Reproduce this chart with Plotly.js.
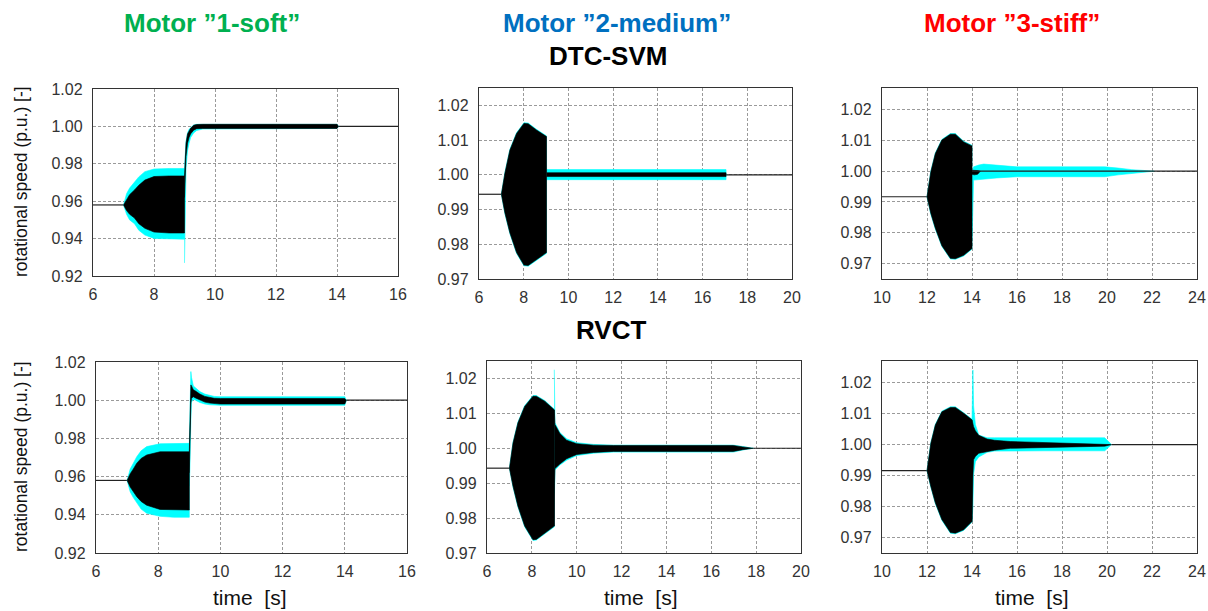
<!DOCTYPE html>
<html>
<head>
<meta charset="utf-8">
<script src="https://cdn.plot.ly/plotly-3.0.1.min.js"></script>
<style>html,body{margin:0;padding:0;background:#fff;}#chart{width:1208px;height:611px;}</style>
</head>
<body>
<div id="chart"></div>
<script>
// ---------- Panel 1: DTC-SVM, Motor "1-soft" ----------
const p1_preT = [6, 7], p1_preV = [0.958, 0.958];
const p1_postT = [14.05, 16], p1_postV = [1.0, 1.0];
const p1_tA = [7.0, 7.1, 7.2, 7.36, 7.5, 7.7, 8.0, 8.5, 9.0];
const p1_cyanUpA  = [0.958, 0.964, 0.967, 0.9704, 0.973, 0.9758, 0.9772, 0.9775, 0.9775];
const p1_blackUpA = [0.958, 0.961, 0.9635, 0.966, 0.9685, 0.9713, 0.9732, 0.9735, 0.9735];
const p1_blackLoA = [0.958, 0.955, 0.953, 0.951, 0.948, 0.9455, 0.9435, 0.943, 0.943];
const p1_cyanLoA  = [0.958, 0.953, 0.950, 0.948, 0.9445, 0.9419, 0.9401, 0.9397, 0.9397];
const p1_tB = [9.0, 9.02, 9.05, 9.1, 9.15, 9.2, 9.3, 9.4, 9.6, 14.0, 14.05];
const p1_blackUpB = [0.9735, 0.982, 0.991, 0.996, 0.998, 0.999, 1.0006, 1.001, 1.0011, 1.0011, 1.0];
const p1_blackLoB = [0.962, 0.972, 0.984, 0.991, 0.994, 0.996, 0.998, 0.9988, 0.9989, 0.9989, 1.0];
const p1_cyanUpB  = [0.9775, 0.984, 0.992, 0.9965, 0.9985, 0.9993, 1.0007, 1.0011, 1.0011, 1.0011, 1.0];
const p1_cyanLoB  = [0.927, 0.945, 0.978, 0.987, 0.991, 0.994, 0.9965, 0.9978, 0.9986, 0.9989, 1.0];

// ---------- Panel 2: DTC-SVM, Motor "2-medium" ----------
const p2_preT = [6, 7], p2_preV = [0.9944, 0.9944];
const p2_postT = [17.05, 20], p2_postV = [1.0, 1.0];
const p2_tA = [7.0, 7.16, 7.38, 7.68, 8.01, 8.2, 8.57, 9.02];
const p2_blackUpA = [0.9944, 1.0005, 1.0071, 1.0119, 1.0148, 1.0147, 1.0129, 1.011];
const p2_blackLoA = [0.9944, 0.989, 0.9833, 0.9776, 0.974, 0.9739, 0.9756, 0.9776];
const p2_cyanUpA  = [0.9944, 1.0007, 1.0073, 1.0121, 1.015, 1.0149, 1.0131, 1.0112];
const p2_cyanLoA  = [0.9944, 0.9888, 0.9831, 0.9774, 0.9738, 0.9737, 0.9754, 0.9774];
const p2_tB = [9.02, 17.05];
const p2_blackUpB = [1.0006, 1.0006];
const p2_blackLoB = [0.9995, 0.9995];
const p2_cyanUpB  = [1.0015, 1.0015];
const p2_cyanLoB  = [0.9986, 0.9986];

// ---------- Panel 3: DTC-SVM, Motor "3-stiff" ----------
const p3_preT = [10, 12], p3_preV = [0.9917, 0.9917];
const p3_postT = [14.0, 24], p3_postV = [1.0, 1.0];
const p3_tA = [12.0, 12.17, 12.37, 12.66, 13.04, 13.26, 13.63, 14.0];
const p3_blackUpA = [0.9917, 0.9998, 1.0057, 1.0101, 1.012, 1.012, 1.0095, 1.0082];
const p3_blackLoA = [0.9917, 0.9863, 0.9815, 0.9758, 0.9717, 0.9716, 0.9727, 0.9749];
const p3_cyanUpA  = [0.9917, 1.0, 1.0059, 1.0103, 1.0122, 1.0122, 1.0097, 1.0084];
const p3_cyanLoA  = [0.9917, 0.986, 0.9812, 0.9756, 0.9715, 0.9714, 0.9725, 0.9747];
const p3_tB = [14.0, 14.04, 14.07, 14.3, 14.52, 15.1, 16.0, 17.2, 19.9, 20.5, 21.1, 22.1];
const p3_cyanUpB = [1.0, 1.0005, 1.0014, 1.002, 1.0023, 1.0019, 1.0014, 1.0014, 1.0014, 1.001, 1.0005, 1.0];
const p3_cyanLoB = [0.9776, 0.988, 0.9971, 0.9973, 0.9975, 0.9978, 0.9982, 0.9982, 0.9982, 0.9988, 0.9993, 1.0];
const p3_tC = [14.0, 14.1, 14.25, 14.37];
const p3_blackUpC = [1.0003, 1.0003, 1.0002, 1.0];
const p3_blackLoC = [0.999, 0.9988, 0.999, 1.0];

// ---------- Panel 4: RVCT, Motor "1-soft" ----------
const p4_preT = [6, 7], p4_preV = [0.958, 0.958];
const p4_postT = [14.05, 16], p4_postV = [1.0, 1.0];
const p4_tA = [7.0, 7.1, 7.2, 7.31, 7.45, 7.63, 8.06, 8.5, 9.0];
const p4_blackUpA = [0.958, 0.9615, 0.964, 0.967, 0.9695, 0.9713, 0.973, 0.973, 0.973];
const p4_cyanUpA  = [0.958, 0.964, 0.967, 0.9704, 0.9735, 0.9757, 0.9772, 0.9774, 0.9774];
const p4_blackLoA = [0.958, 0.9545, 0.952, 0.9495, 0.947, 0.945, 0.9428, 0.9425, 0.9425];
const p4_cyanLoA  = [0.958, 0.952, 0.949, 0.946, 0.943, 0.9408, 0.9392, 0.9387, 0.9387];
const p4_tB = [9.0, 9.02, 9.05, 9.07, 9.13, 9.2, 9.34, 9.5, 9.66, 9.8, 10.0, 14.0, 14.05];
const p4_cyanUpB  = [0.9774, 0.995, 1.015, 1.012, 1.0075, 1.0065, 1.0045, 1.0032, 1.0024, 1.002, 1.0018, 1.0018, 1.0];
const p4_blackUpB = [0.973, 0.99, 1.008, 1.0075, 1.0055, 1.0048, 1.0032, 1.002, 1.0013, 1.001, 1.0009, 1.0009, 1.0];
const p4_blackLoB = [0.962, 0.975, 0.998, 1.001, 1.0018, 1.0012, 1.0, 0.999, 0.9985, 0.9982, 0.998, 0.998, 1.0];
const p4_cyanLoB  = [0.955, 0.965, 0.99, 0.999, 1.0005, 1.0, 0.9988, 0.998, 0.9976, 0.9974, 0.9973, 0.9973, 1.0];

// ---------- Panel 5: RVCT, Motor "2-medium" ----------
const p5_preT = [6, 7], p5_preV = [0.9943, 0.9943];
const p5_postT = [17.87, 20], p5_postV = [1.0, 1.0];
const p5_tA = [7.0, 7.16, 7.38, 7.68, 8.05, 8.2, 8.57, 9.0];
const p5_blackUpA = [0.9943, 1.0015, 1.0073, 1.012, 1.0149, 1.0149, 1.0135, 1.011];
const p5_blackLoA = [0.9943, 0.9891, 0.9834, 0.9777, 0.9738, 0.9739, 0.9756, 0.9777];
const p5_cyanUpA  = [0.9943, 1.0017, 1.0075, 1.0122, 1.0151, 1.0151, 1.0137, 1.0112];
const p5_cyanLoA  = [0.9943, 0.9889, 0.9832, 0.9775, 0.9736, 0.9737, 0.9754, 0.9775];
const p5_tB = [9.0, 9.01, 9.03, 9.25, 9.55, 10.0, 10.75, 11.64, 16.98, 17.4, 17.87];
const p5_blackUpB = [1.011, 1.008, 1.0068, 1.0042, 1.0023, 1.0013, 1.0009, 1.0008, 1.0008, 1.0004, 1.0];
const p5_blackLoB = [0.9777, 0.990, 0.9942, 0.9955, 0.997, 0.9982, 0.9988, 0.9991, 0.9991, 0.9996, 1.0];
const p5_cyanUpB  = [1.0225, 1.012, 1.0073, 1.0045, 1.0027, 1.0016, 1.0011, 1.0009, 1.0009, 1.0005, 1.0];
const p5_cyanLoB  = [0.9872, 0.9872, 0.9938, 0.9952, 0.9966, 0.9979, 0.9986, 0.9989, 0.9989, 0.9995, 1.0];

// ---------- Panel 6: RVCT, Motor "3-stiff" ----------
const p6_preT = [10, 12], p6_preV = [0.9916, 0.9916];
const p6_postT = [20.2, 24], p6_postV = [1.0, 1.0];
const p6_tA = [12.0, 12.17, 12.37, 12.66, 13.04, 13.26, 13.63, 14.0];
const p6_blackUpA = [0.9916, 1.0004, 1.0063, 1.0106, 1.012, 1.012, 1.0101, 1.008];
const p6_blackLoA = [0.9916, 0.9865, 0.9812, 0.9758, 0.9716, 0.9714, 0.9725, 0.9752];
const p6_cyanUpA  = [0.9916, 1.0006, 1.0065, 1.0108, 1.0122, 1.0122, 1.0103, 1.0082];
const p6_cyanLoA  = [0.9916, 0.9863, 0.981, 0.9756, 0.9714, 0.9712, 0.9723, 0.975];
const p6_tB = [14.0, 14.04, 14.07, 14.15, 14.3, 14.67, 15.0, 15.7, 17.2, 19.9, 20.2];
const p6_cyanUpB  = [1.008, 1.0241, 1.0125, 1.0065, 1.0031, 1.0022, 1.0022, 1.0022, 1.0022, 1.0022, 1.0];
const p6_cyanLoB  = [0.9752, 0.98, 0.9905, 0.9945, 0.996, 0.9975, 0.9979, 0.998, 0.998, 0.998, 1.0];
const p6_blackUpB = [1.008, 1.0065, 1.0058, 1.0045, 1.003, 1.0018, 1.0014, 1.001, 1.0007, 1.0003, 1.0];
const p6_blackLoB = [0.9752, 0.990, 0.9951, 0.9962, 0.9972, 0.9977, 0.9982, 0.9988, 0.9992, 0.9995, 1.0];

// ---------- Labels ----------
const motorTitles = ['Motor \u201d1-soft\u201d', 'Motor \u201d2-medium\u201d', 'Motor \u201d3-stiff\u201d'];
const methodTitles = ['DTC-SVM', 'RVCT'];
const yTitle = 'rotational speed (p.u.) [-]';
const xTitle = 'time \u00a0[s]';

// ---------- Helpers ----------
const CYAN = '#00FFFF', BLACK = '#000000';
function band(t, up, lo, color, n) {
  return {
    x: t.concat(t.slice().reverse()),
    y: up.concat(lo.slice().reverse()),
    fill: 'toself', fillcolor: color, mode: 'lines',
    line: {color: color, width: 0.6},
    xaxis: 'x' + (n === 1 ? '' : n), yaxis: 'y' + (n === 1 ? '' : n),
    hoverinfo: 'skip', showlegend: false
  };
}
function line(t, v, n) {
  return {
    x: t, y: v, mode: 'lines', line: {color: '#222', width: 1.2},
    xaxis: 'x' + (n === 1 ? '' : n), yaxis: 'y' + (n === 1 ? '' : n),
    hoverinfo: 'skip', showlegend: false
  };
}

const data = [
  line(p1_preT, p1_preV, 1), line(p1_postT, p1_postV, 1),
  band(p1_tA, p1_cyanUpA, p1_cyanLoA, CYAN, 1), band(p1_tB, p1_cyanUpB, p1_cyanLoB, CYAN, 1),
  band(p1_tA, p1_blackUpA, p1_blackLoA, BLACK, 1), band(p1_tB, p1_blackUpB, p1_blackLoB, BLACK, 1),
  line(p2_preT, p2_preV, 2), line(p2_postT, p2_postV, 2),
  band(p2_tA, p2_cyanUpA, p2_cyanLoA, CYAN, 2), band(p2_tB, p2_cyanUpB, p2_cyanLoB, CYAN, 2),
  band(p2_tA, p2_blackUpA, p2_blackLoA, BLACK, 2), band(p2_tB, p2_blackUpB, p2_blackLoB, BLACK, 2),
  line(p3_preT, p3_preV, 3),
  band(p3_tA, p3_cyanUpA, p3_cyanLoA, CYAN, 3), band(p3_tB, p3_cyanUpB, p3_cyanLoB, CYAN, 3),
  band(p3_tA, p3_blackUpA, p3_blackLoA, BLACK, 3), band(p3_tC, p3_blackUpC, p3_blackLoC, BLACK, 3),
  line(p3_postT, p3_postV, 3),
  line(p4_preT, p4_preV, 4), line(p4_postT, p4_postV, 4),
  band(p4_tA, p4_cyanUpA, p4_cyanLoA, CYAN, 4), band(p4_tB, p4_cyanUpB, p4_cyanLoB, CYAN, 4),
  band(p4_tA, p4_blackUpA, p4_blackLoA, BLACK, 4), band(p4_tB, p4_blackUpB, p4_blackLoB, BLACK, 4),
  line(p5_preT, p5_preV, 5), line(p5_postT, p5_postV, 5),
  band(p5_tA, p5_cyanUpA, p5_cyanLoA, CYAN, 5), band(p5_tB, p5_cyanUpB, p5_cyanLoB, CYAN, 5),
  band(p5_tA, p5_blackUpA, p5_blackLoA, BLACK, 5), band(p5_tB, p5_blackUpB, p5_blackLoB, BLACK, 5),
  line(p6_preT, p6_preV, 6), line(p6_postT, p6_postV, 6),
  band(p6_tA, p6_cyanUpA, p6_cyanLoA, CYAN, 6), band(p6_tB, p6_cyanUpB, p6_cyanLoB, CYAN, 6),
  band(p6_tA, p6_blackUpA, p6_blackLoA, BLACK, 6), band(p6_tB, p6_blackUpB, p6_blackLoB, BLACK, 6)
];

// ---------- Layout ----------
const W = 1208, H = 611;
function xd(a, b) { return [a / W, b / W]; }
function yd(top, bottom) { return [1 - bottom / H, 1 - top / H]; }
const FONT = 'Liberation Sans, Arial, sans-serif';
const tickFont = {family: FONT, size: 16, color: '#333'};
function xax(dom, range, anchor) {
  return {domain: dom, range: range, anchor: anchor, dtick: 2, tick0: 0,
    showgrid: true, gridcolor: '#9a9a9a', griddash: '3px,2px', gridwidth: 1,
    showline: true, mirror: true, linecolor: '#333', linewidth: 1.2,
    zeroline: false, ticks: '', ticklabelstandoff: 4, tickfont: tickFont, fixedrange: true};
}
function yax(dom, range, dtick, anchor) {
  return {domain: dom, range: range, anchor: anchor, dtick: dtick, tick0: 0, tickformat: '.2f',
    showgrid: true, gridcolor: '#9a9a9a', griddash: '3px,2px', gridwidth: 1,
    showline: true, mirror: true, linecolor: '#333', linewidth: 1.2,
    zeroline: false, ticks: '', ticklabelstandoff: 6, tickfont: tickFont, fixedrange: true};
}

const annFont = (c) => ({family: FONT, size: 26, color: c, weight: 'bold'});
const annotations = [
  {text: '<b>' + motorTitles[0] + '</b>', x: 212 / W, y: 1 - 23 / H, font: annFont('#00B050')},
  {text: '<b>' + motorTitles[1] + '</b>', x: 617 / W, y: 1 - 23 / H, font: annFont('#0070C0')},
  {text: '<b>' + motorTitles[2] + '</b>', x: 1012 / W, y: 1 - 23 / H, font: annFont('#FF0000')},
  {text: '<b>' + methodTitles[0] + '</b>', x: 608 / W, y: 1 - 56 / H, font: annFont('#000')},
  {text: '<b>' + methodTitles[1] + '</b>', x: 611 / W, y: 1 - 330 / H, font: annFont('#000')},
  {text: yTitle, x: 21 / W, y: 1 - 182 / H, textangle: -90, font: {family: FONT, size: 17.5, color: '#111'}},
  {text: yTitle, x: 21 / W, y: 1 - 457 / H, textangle: -90, font: {family: FONT, size: 17.5, color: '#111'}},
  {text: xTitle, x: 250 / W, y: 1 - 597 / H, font: {family: FONT, size: 21, color: '#111'}},
  {text: xTitle, x: 641 / W, y: 1 - 597 / H, font: {family: FONT, size: 21, color: '#111'}},
  {text: xTitle, x: 1032 / W, y: 1 - 597 / H, font: {family: FONT, size: 21, color: '#111'}}
].map(a => Object.assign({xref: 'paper', yref: 'paper', showarrow: false, xanchor: 'center', yanchor: 'middle'}, a));

const layout = {
  width: W, height: H,
  margin: {l: 0, r: 0, t: 0, b: 0},
  paper_bgcolor: '#fff', plot_bgcolor: '#fff',
  showlegend: false,
  xaxis:  xax(xd(93, 398),  [6, 16],  'y'),
  yaxis:  yax(yd(89, 276),  [0.92, 1.02], 0.02, 'x'),
  xaxis2: xax(xd(479, 792), [6, 20],  'y2'),
  yaxis2: yax(yd(88, 279),  [0.97, 1.025], 0.01, 'x2'),
  xaxis3: xax(xd(882, 1197), [10, 24], 'y3'),
  yaxis3: yax(yd(88, 279),  [0.965, 1.027], 0.01, 'x3'),
  xaxis4: xax(xd(96, 407),  [6, 16],  'y4'),
  yaxis4: yax(yd(362, 553), [0.92, 1.02], 0.02, 'x4'),
  xaxis5: xax(xd(487, 801), [6, 20],  'y5'),
  yaxis5: yax(yd(361, 553), [0.97, 1.025], 0.01, 'x5'),
  xaxis6: xax(xd(882, 1197), [10, 24], 'y6'),
  yaxis6: yax(yd(361, 553), [0.965, 1.027], 0.01, 'x6'),
  annotations: annotations
};

Plotly.newPlot('chart', data, layout, {displayModeBar: false, staticPlot: true});
</script>
</body>
</html>
